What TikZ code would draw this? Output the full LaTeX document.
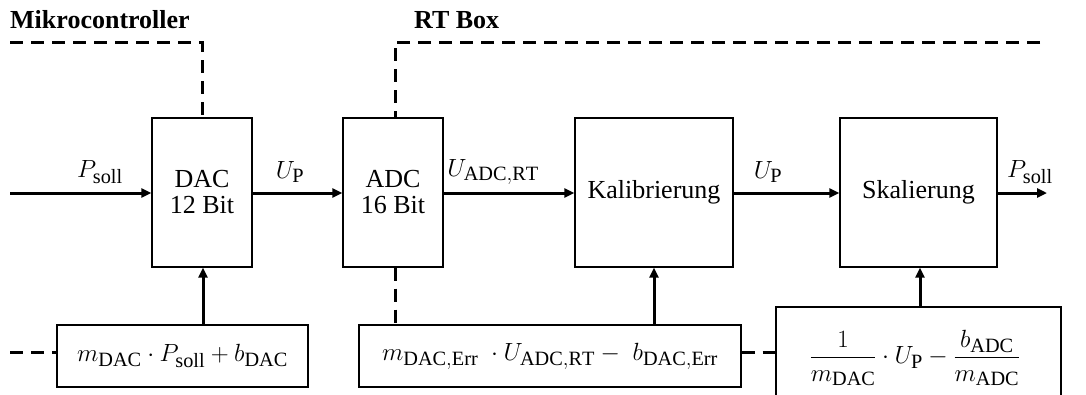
\documentclass[tikz,border=0pt]{standalone}
\usepackage{amsmath}
\usepackage{fontspec}
\setmainfont{Liberation Serif}
\usetikzlibrary{arrows.meta}
\begin{document}
\begin{tikzpicture}[x=1pt,y=-1pt,
  every node/.style={font=\fontsize{26}{29}\selectfont},
  mth/.style={font=\fontsize{29}{32}\selectfont},
  blk/.style={draw,line width=1.4pt,minimum width=#1,minimum height=149pt,inner sep=0pt,align=center},
  fbox/.style={draw,line width=1.4pt,inner sep=0pt,mth},
  sig/.style={line width=3pt,-{Triangle[length=10pt,width=9pt]}},
  bnd/.style={line width=3pt,dash pattern=on 13pt off 8pt},
  lbl/.style={inner sep=0pt,mth},
  ttl/.style={font=\fontsize{26}{29}\selectfont\bfseries,inner sep=0pt,anchor=base west}]
\useasboundingbox (0,0) rectangle (1086,394);
\clip (0,0) rectangle (1086,394);
% blocks
\node[blk=100pt] (dac) at (202,192.5) {DAC\\[-3pt]12 Bit};
\node[blk=100pt] (adc) at (393,192.5) {ADC\\[-3pt]16 Bit};
\node[blk=158pt] (kal) at (654,192.5) {Kalibrierung};
\node[blk=157pt] (ska) at (918.5,192.5) {Skalierung};
% formula boxes
\node[fbox,minimum width=251pt,minimum height=62pt] (f1) at (182.5,356) {$m_{\mathrm{DAC}}\cdot P_{\mathrm{soll}}+b_{\mathrm{DAC}}$};
\node[fbox,minimum width=382pt,minimum height=62pt] (f2) at (550,356) {$m_{\mathrm{DAC,Err}}\ \cdot U_{\mathrm{ADC,RT}}-\ b_{\mathrm{DAC,Err}}$};
\node[fbox,minimum width=285pt,minimum height=100pt] (f3) at (918.5,357) {};
\node[lbl] (f3t) at (915,358) {$\dfrac{1}{m_{\mathrm{DAC}}}\cdot U_{\mathrm{P}}-\dfrac{b_{\mathrm{ADC}}}{m_{\mathrm{ADC}}}$};
% titles
\node[ttl] (tmc) at (10,28) {Mikrocontroller};
\node[ttl] (trt) at (414,28) {RT Box};
% coordinates
\coordinate (in) at (10,193);
\coordinate (out) at (1047,193);
\coordinate (mcL) at (10,42);
\coordinate (rtR) at (1040,42);
\coordinate (dl) at (10,352);
% signal arrows
\draw[sig] (in) -- (in -| dac.west);
\draw[sig] (in -| dac.east) -- (in -| adc.west);
\draw[sig] (in -| adc.east) -- (in -| kal.west);
\draw[sig] (in -| kal.east) -- (in -| ska.west);
\draw[sig] (in -| ska.east) -- (out);
% labels
\node[lbl] (l1) at (100,172) {$P_{\mathrm{soll}}$};
\node[lbl] (l2) at (290,172) {$U_{\mathrm{P}}$};
\node[lbl] (l3) at (493,172) {$U_{\mathrm{ADC,RT}}$};
\node[lbl] (l4) at (768,172) {$U_{\mathrm{P}}$};
\node[lbl] (l5) at (1030,172) {$P_{\mathrm{soll}}$};
% vertical arrows
\draw[sig] (f1.north -| 203,0) -- (dac.south -| 203,0);
\draw[sig] (f2.north -| kal.south) -- (kal.south);
\draw[sig] (f3.north -| 920,0) -- (ska.south -| 920,0);
% boundaries
\draw[bnd] (mcL) -- (mcL -| dac.north) -- (dac.north);
\draw[bnd] (rtR) -- (rtR -| 395,0) -- (adc.north -| 395,0);
\draw[bnd] (adc.south -| 395,0) -- (f2.north -| 395,0);
\draw[bnd] (dl) -- (dl -| f1.west);
\draw[bnd] (dl -| f2.east) -- (dl -| f3.west);
\end{tikzpicture}
\end{document}
